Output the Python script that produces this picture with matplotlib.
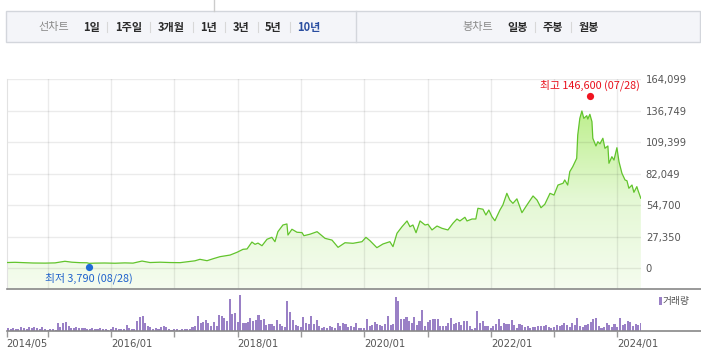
import matplotlib
matplotlib.use("Agg")
import matplotlib.pyplot as plt
import matplotlib.dates as mdates
from matplotlib.patches import Rectangle, Polygon
from matplotlib.lines import Line2D
from matplotlib.colors import LinearSegmentedColormap
from matplotlib.transforms import offset_copy
import numpy as np
import pandas as pd

# --- data ---
price_dates = [
    "2014-05-10", "2014-06-26", "2014-08-22", "2014-10-08", "2014-12-16", "2015-02-12",
    "2015-04-10", "2015-05-20", "2015-07-05", "2015-08-15", "2015-08-28", "2015-09-30",
    "2015-11-26", "2016-01-24", "2016-03-21", "2016-05-07", "2016-06-28", "2016-08-13",
    "2016-10-10", "2016-12-07", "2017-02-03", "2017-03-14", "2017-04-29", "2017-05-28",
    "2017-07-08", "2017-08-12", "2017-09-21", "2017-11-18", "2017-12-28", "2018-02-01",
    "2018-02-24", "2018-03-24", "2018-04-11", "2018-04-28", "2018-05-21", "2018-06-19",
    "2018-07-17", "2018-08-04", "2018-08-21", "2018-09-19", "2018-10-12", "2018-10-18",
    "2018-11-10", "2018-12-09", "2019-01-07", "2019-01-18", "2019-02-22", "2019-04-04",
    "2019-05-20", "2019-06-29", "2019-08-03", "2019-09-12", "2019-10-28", "2019-12-19",
    "2020-01-11", "2020-02-03", "2020-03-14", "2020-04-18", "2020-05-28", "2020-06-15",
    "2020-07-08", "2020-08-06", "2020-09-04", "2020-09-21", "2020-10-08", "2020-10-26",
    "2020-11-18", "2020-12-17", "2021-01-03", "2021-01-26", "2021-02-24", "2021-03-25",
    "2021-04-28", "2021-05-27", "2021-06-19", "2021-07-06", "2021-08-04", "2021-08-16",
    "2021-09-14", "2021-10-06", "2021-10-18", "2021-11-16", "2021-12-03", "2021-12-20",
    "2022-01-07", "2022-01-24", "2022-02-22", "2022-03-11", "2022-04-03", "2022-04-20",
    "2022-05-08", "2022-05-31", "2022-06-29", "2022-07-28", "2022-09-01", "2022-09-24",
    "2022-10-17", "2022-11-08", "2022-12-08", "2022-12-31", "2023-01-23", "2023-02-21",
    "2023-03-03", "2023-03-20", "2023-04-01", "2023-04-18", "2023-05-11", "2023-05-17",
    "2023-05-29", "2023-06-10", "2023-06-21", "2023-07-08", "2023-07-14", "2023-07-26",
    "2023-08-07", "2023-08-12", "2023-08-30", "2023-09-10", "2023-09-22", "2023-10-09",
    "2023-10-21", "2023-11-07", "2023-11-13", "2023-11-30", "2023-12-12", "2023-12-29",
    "2024-01-10", "2024-01-27", "2024-02-14", "2024-02-25", "2024-03-07", "2024-03-25",
    "2024-04-05", "2024-04-22", "2024-04-28", "2024-05-15",
]
price_values = [
    5000, 5200, 4900, 4600, 4500, 4700,
    6100, 5300, 4900, 4800, 4300, 4500,
    4600, 4400, 4700, 4500, 6300, 5000,
    5300, 5000, 4900, 5600, 6500, 7800,
    6600, 8300, 10100, 11500, 13900, 16500,
    16800, 22800, 20800, 21900, 19600, 25200,
    26900, 23100, 31800, 37600, 38500, 28900,
    33900, 31300, 31000, 28300, 29600, 31800,
    26000, 24500, 18200, 22200, 21700, 23100,
    26900, 24000, 17900, 21100, 23100, 18800,
    30400, 36100, 41100, 36100, 37600, 30900,
    41100, 37600, 38200, 33300, 36700, 34700,
    33300, 39100, 42800, 41100, 44300, 41100,
    42800, 42800, 52100, 51300, 46300, 50600,
    44800, 41300, 50600, 55000, 65100, 59300,
    56400, 60300, 48300, 55000, 62800, 59300,
    52600, 55600, 65100, 63600, 72300, 73800,
    76700, 72300, 83900, 88200, 95500, 115700,
    130200, 136600, 130200, 132500, 129600, 133700,
    127300, 112900, 106200, 109900, 108100, 112900,
    104200, 106200, 91200, 96900, 94000, 104700,
    92600, 82500, 76700, 76000, 69500, 72300,
    66000, 70900, 68000, 60800,
]

# semi-monthly volume bars, 2014-05-15 .. 2024-05-15
volume_values = [
    3, 2, 3, 2, 2, 4, 3, 2, 4, 3,
    4, 3, 2, 4, 2, 1, 2, 2, 1, 8,
    4, 8, 9, 5, 3, 3, 4, 3, 3, 3,
    2, 2, 3, 2, 2, 3, 2, 2, 1, 2,
    4, 3, 2, 2, 2, 6, 3, 2, 2, 10,
    14, 15, 8, 5, 4, 2, 3, 2, 4, 5,
    4, 2, 1, 2, 2, 1, 2, 2, 2, 2,
    4, 5, 15, 8, 9, 11, 8, 5, 9, 5,
    16, 15, 13, 10, 32, 17, 18, 9, 36, 8,
    8, 9, 13, 10, 11, 16, 11, 12, 6, 7,
    7, 5, 11, 7, 5, 4, 30, 19, 11, 6,
    5, 4, 14, 8, 7, 15, 7, 11, 5, 3,
    4, 3, 5, 4, 3, 8, 5, 8, 7, 4,
    5, 4, 8, 3, 3, 3, 12, 5, 6, 9,
    7, 6, 5, 7, 15, 6, 7, 34, 30, 12,
    12, 14, 10, 8, 14, 6, 10, 21, 5, 9,
    11, 12, 12, 12, 5, 5, 5, 8, 13, 7,
    8, 9, 6, 10, 10, 5, 2, 3, 20, 8,
    10, 5, 5, 3, 5, 7, 12, 5, 8, 7,
    7, 11, 6, 3, 7, 6, 4, 5, 3, 4,
    4, 5, 5, 5, 6, 4, 3, 4, 6, 5,
    6, 8, 6, 4, 8, 6, 13, 5, 4, 6,
    7, 9, 12, 13, 5, 3, 4, 8, 6, 4,
    7, 4, 13, 6, 7, 10, 9, 5, 7, 6, 8,
]
volume_dates = pd.date_range("2014-05-15", periods=len(volume_values), freq="SMS")

y_ticks = [0, 27350, 54700, 82049, 109399, 136749, 164099]
x_tick_dates = ["2014-05-08"] + [f"{y}-01-01" for y in range(2015, 2025)]
x_tick_labels = ["2014/05", "", "2016/01", "", "2018/01", "", "2020/01", "", "2022/01", "", "2024/01"]

hi_date, hi_value, hi_label = "2023-07-28", 146600, "최고 146,600 (07/28)"
lo_date, lo_value, lo_label = "2015-08-28", 3790, "최저 3,790 (08/28)"

line_menu = ["1일", "1주일", "3개월", "1년", "3년", "5년", "10년"]
candle_menu = ["일봉", "주봉", "월봉"]

KR = ["Noto Sans CJK KR", "DejaVu Sans"]
W, H = 701, 360
fig = plt.figure(figsize=(W / 100, H / 100), dpi=100)


def fx(px):
    return px / W


def fy(py):
    return 1 - py / H


# --- top menu bar ---
fig.patches.append(Rectangle((fx(6), fy(41.5)), fx(700) - fx(6), fy(11) - fy(41.5),
                             transform=fig.transFigure, facecolor="#f4f5f9",
                             edgecolor="#d3d6dc", lw=1))
fig.lines.append(Line2D([fx(356), fx(356)], [fy(11), fy(41.5)], transform=fig.transFigure,
                        color="#d3d6dc", lw=1))
fig.lines.append(Line2D([fx(214), fx(214)], [fy(0), fy(11)], transform=fig.transFigure,
                        color="#cccccc", lw=1))

ty = fy(27)
MS = 8
fig.text(fx(54), ty, "선차트", family=KR, fontsize=MS, color="#8a8a8a", ha="center", va="center")
menu_x = [92, 129, 171.5, 209, 241.5, 273.5, 308.5]
for lab, mx in zip(line_menu, menu_x):
    col = "#2a4ea0" if lab == "10년" else "#2b2b2b"
    fig.text(fx(mx), ty, lab, family=KR, fontsize=MS, fontweight="bold", color=col,
             ha="center", va="center")
for sx in [107, 150, 193, 225, 258, 290]:
    fig.lines.append(Line2D([fx(sx), fx(sx)], [fy(22), fy(32)], transform=fig.transFigure,
                            color="#d8d8d8", lw=0.8))

fig.text(fx(478), ty, "봉차트", family=KR, fontsize=MS, color="#8a8a8a", ha="center", va="center")
for lab, mx in zip(candle_menu, [518, 552.5, 589]):
    fig.text(fx(mx), ty, lab, family=KR, fontsize=MS, fontweight="bold", color="#2b2b2b",
             ha="center", va="center")
for sx in [535, 571]:
    fig.lines.append(Line2D([fx(sx), fx(sx)], [fy(22), fy(32)], transform=fig.transFigure,
                            color="#d8d8d8", lw=0.8))

# --- price chart ---
left, right = 6.5, 641
ax = fig.add_axes([fx(left), fy(288.7), fx(right) - fx(left), fy(79.3) - fy(288.7)])
xd = mdates.date2num(pd.to_datetime(price_dates))
yv = np.array(price_values, dtype=float)
xmin = mdates.date2num(pd.Timestamp("2014-05-08"))
xmax = mdates.date2num(pd.Timestamp("2024-05-16"))
ymin, ymax = -17713, 164099

verts = [(xd[0], ymin)] + list(zip(xd, yv)) + [(xd[-1], ymin)]
clip = Polygon(verts, closed=True, facecolor="none", edgecolor="none")
ax.add_patch(clip)
cmap = LinearSegmentedColormap.from_list("g", ["#f5fcef", "#e4f8d4", "#bdef8c"])
grad = np.linspace(0, 1, 256).reshape(-1, 1)
im = ax.imshow(grad, extent=[xd[0], xd[-1], ymin, 140000], origin="lower", aspect="auto",
               cmap=cmap, zorder=1)
im.set_clip_path(clip)

for t in y_ticks:
    ax.axhline(t, color="black", alpha=0.08, lw=1, zorder=2)
for d in x_tick_dates[1:]:
    ax.axvline(mdates.date2num(pd.Timestamp(d)), color="black", alpha=0.08, lw=1, zorder=2)

ax.plot(xd, yv, color="#62c42c", lw=0.9, zorder=3)

ax.set_xlim(xmin, xmax)
ax.set_ylim(ymin, ymax)
ax.set_xticks([])
ax.yaxis.tick_right()
ax.set_yticks(y_ticks)
ax.set_yticklabels([f"{t:,}" for t in y_ticks])
ax.tick_params(axis="y", length=0, pad=3.5, labelsize=7.2, colors="#555555")
for s in ["top", "right", "bottom"]:
    ax.spines[s].set_visible(False)
ax.spines["left"].set_color("#e2e2e2")

# high / low markers
hx = mdates.date2num(pd.Timestamp(hi_date))
lx = mdates.date2num(pd.Timestamp(lo_date))
ax.plot([hx], [hi_value], "o", color="#f01420", ms=5.2, mew=0, zorder=5, clip_on=False,
        transform=offset_copy(ax.transData, fig=fig, x=0, y=2.5, units="points"))
ax.annotate(hi_label, (hx, hi_value), xytext=(0, 10.4), textcoords="offset points",
            ha="center", va="center", color="#e8101c", fontsize=7.8, family=KR,
            annotation_clip=False)
ax.plot([lx], [lo_value], "o", color="#1f6bd6", ms=5.2, mew=0, zorder=5, clip_on=False,
        transform=offset_copy(ax.transData, fig=fig, x=0, y=-2.45, units="points"))
ax.annotate(lo_label, (lx, lo_value), xytext=(0, -10.2), textcoords="offset points",
            ha="center", va="center", color="#1f62cc", fontsize=7.8, family=KR,
            annotation_clip=False)

fig.lines.append(Line2D([fx(left), fx(701)], [fy(288.5), fy(288.5)], transform=fig.transFigure,
                        color="#888888", lw=1.2))

# --- volume chart ---
vax = fig.add_axes([fx(left), fy(331), fx(right) - fx(left), fy(289.5) - fy(331)])
vax.bar(volume_dates, volume_values, width=12, color="#9a80c6", linewidth=0)
vax.set_xlim(xmin, xmax)
vax.set_ylim(0, 41.5)
vax.set_yticks([])
vax.set_xticks(mdates.date2num(pd.to_datetime(x_tick_dates)))
vax.set_xticklabels(x_tick_labels, ha="left")
vax.tick_params(axis="x", length=4.3, width=1, color="#999999", pad=1.5, labelsize=7.2,
                labelcolor="#555555")
for s in ["top", "right", "left", "bottom"]:
    vax.spines[s].set_visible(False)
fig.lines.append(Line2D([fx(left), fx(701)], [fy(331), fy(331)], transform=fig.transFigure,
                        color="#888888", lw=1.2))

fig.patches.append(Rectangle((fx(658.5), fy(304.5)), fx(3) - fx(0), fy(297) - fy(304.5),
                             transform=fig.transFigure, facecolor="#9a80c6", edgecolor="none"))
fig.text(fx(663), fy(301), "거래량", family=KR, fontsize=7, color="#555555", ha="left", va="center")

fig.savefig("out.png", dpi=100)
